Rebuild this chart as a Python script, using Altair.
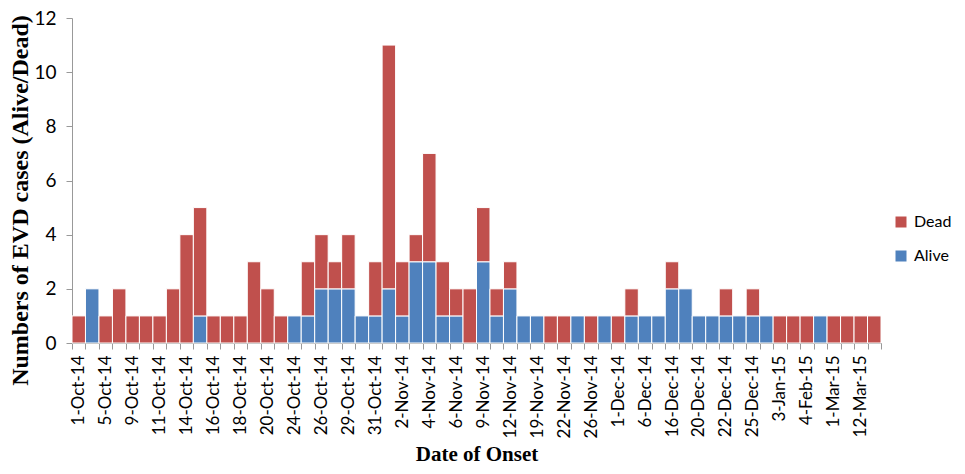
import altair as alt
import pandas as pd

tick_labels = ["1-Oct-14", "5-Oct-14", "9-Oct-14", "11-Oct-14", "14-Oct-14", "16-Oct-14",
               "18-Oct-14", "20-Oct-14", "24-Oct-14", "26-Oct-14", "29-Oct-14", "31-Oct-14",
               "2-Nov-14", "4-Nov-14", "6-Nov-14", "9-Nov-14", "12-Nov-14", "19-Nov-14",
               "22-Nov-14", "26-Nov-14", "1-Dec-14", "6-Dec-14", "16-Dec-14", "20-Dec-14",
               "22-Dec-14", "25-Dec-14", "3-Jan-15", "4-Feb-15", "1-Mar-15", "12-Mar-15"]

alive = [0, 2, 0, 0, 0, 0, 0, 0, 0, 1,
         0, 0, 0, 0, 0, 0, 1, 1, 2, 2,
         2, 1, 1, 2, 1, 3, 3, 1, 1, 0,
         3, 1, 2, 1, 1, 0, 0, 1, 0, 1,
         0, 1, 1, 1, 2, 2, 1, 1, 1, 1,
         1, 1, 0, 0, 0, 1, 0, 0, 0, 0]
dead = [1, 0, 1, 2, 1, 1, 1, 2, 4, 4,
        1, 1, 1, 3, 2, 1, 0, 2, 2, 1,
        2, 0, 2, 9, 2, 1, 4, 2, 1, 2,
        2, 1, 1, 0, 0, 1, 1, 0, 1, 0,
        1, 1, 0, 0, 1, 0, 0, 0, 1, 0,
        1, 0, 1, 1, 1, 0, 1, 1, 1, 1]

rows = []
for i in range(len(alive)):
    if alive[i] > 0:
        rows.append({"i": i, "status": "Alive", "n": alive[i], "ord": 0})
    if dead[i] > 0:
        rows.append({"i": i, "status": "Dead", "n": dead[i], "ord": 1})
df = pd.DataFrame(rows)

arr = "[" + ",".join("'" + s + "'" for s in tick_labels) + "]"
label_expr = "datum.value % 2 == 0 ? " + arr + "[datum.value / 2] : ''"

chart = alt.Chart(df).mark_bar(stroke="white", strokeWidth=1).encode(
    x=alt.X("i:O",
            scale=alt.Scale(domain=list(range(len(alive))), paddingInner=0, paddingOuter=0),
            axis=alt.Axis(title="Date of Onset", labelExpr=label_expr, labelAngle=270,
                          labelAlign="right", labelBaseline="middle", labelPadding=6,
                          labelFont="Lato", labelFontSize=17, labelColor="#000000",
                          tickBand="extent", tickSize=6, tickColor="#999999",
                          domainColor="#999999", labelOverlap=False,
                          titleFont="Liberation Serif", titleFontSize=21,
                          titleFontWeight="bold", titleColor="#000000", titlePadding=6)),
    y=alt.Y("n:Q", stack="zero",
            scale=alt.Scale(domain=[0, 12], nice=False),
            axis=alt.Axis(title="Numbers of EVD cases (Alive/Dead)", values=list(range(0, 13, 2)),
                          grid=False, tickSize=6, tickColor="#999999", domainColor="#999999",
                          labelFont="Lato", labelFontSize=19, labelColor="#000000", labelPadding=10,
                          titleFont="Liberation Serif", titleFontSize=24, titleFontWeight="bold",
                          titleColor="#000000", titleX=-40, titleY=182, titleAngle=270,
                          titleAlign="center", titleBaseline="bottom")),
    color=alt.Color("status:N",
                    scale=alt.Scale(domain=["Dead", "Alive"], range=["#C0504D", "#4F81BD"]),
                    legend=alt.Legend(title=None, orient="none", legendX=821, legendY=196,
                                      symbolType="square", symbolSize=121, symbolStrokeWidth=0,
                                      labelFont="Lato", labelFontSize=16, labelColor="#000000",
                                      rowPadding=18, labelOffset=5)),
    order=alt.Order("ord:Q"),
).properties(
    width=809, height=325,
    autosize=alt.AutoSizeParams(type="none"),
    padding={"left": 64, "top": 10, "right": 76, "bottom": 123},
).configure_view(stroke=None)

chart.save("out.html", embed_options={"renderer": "svg", "actions": False})
